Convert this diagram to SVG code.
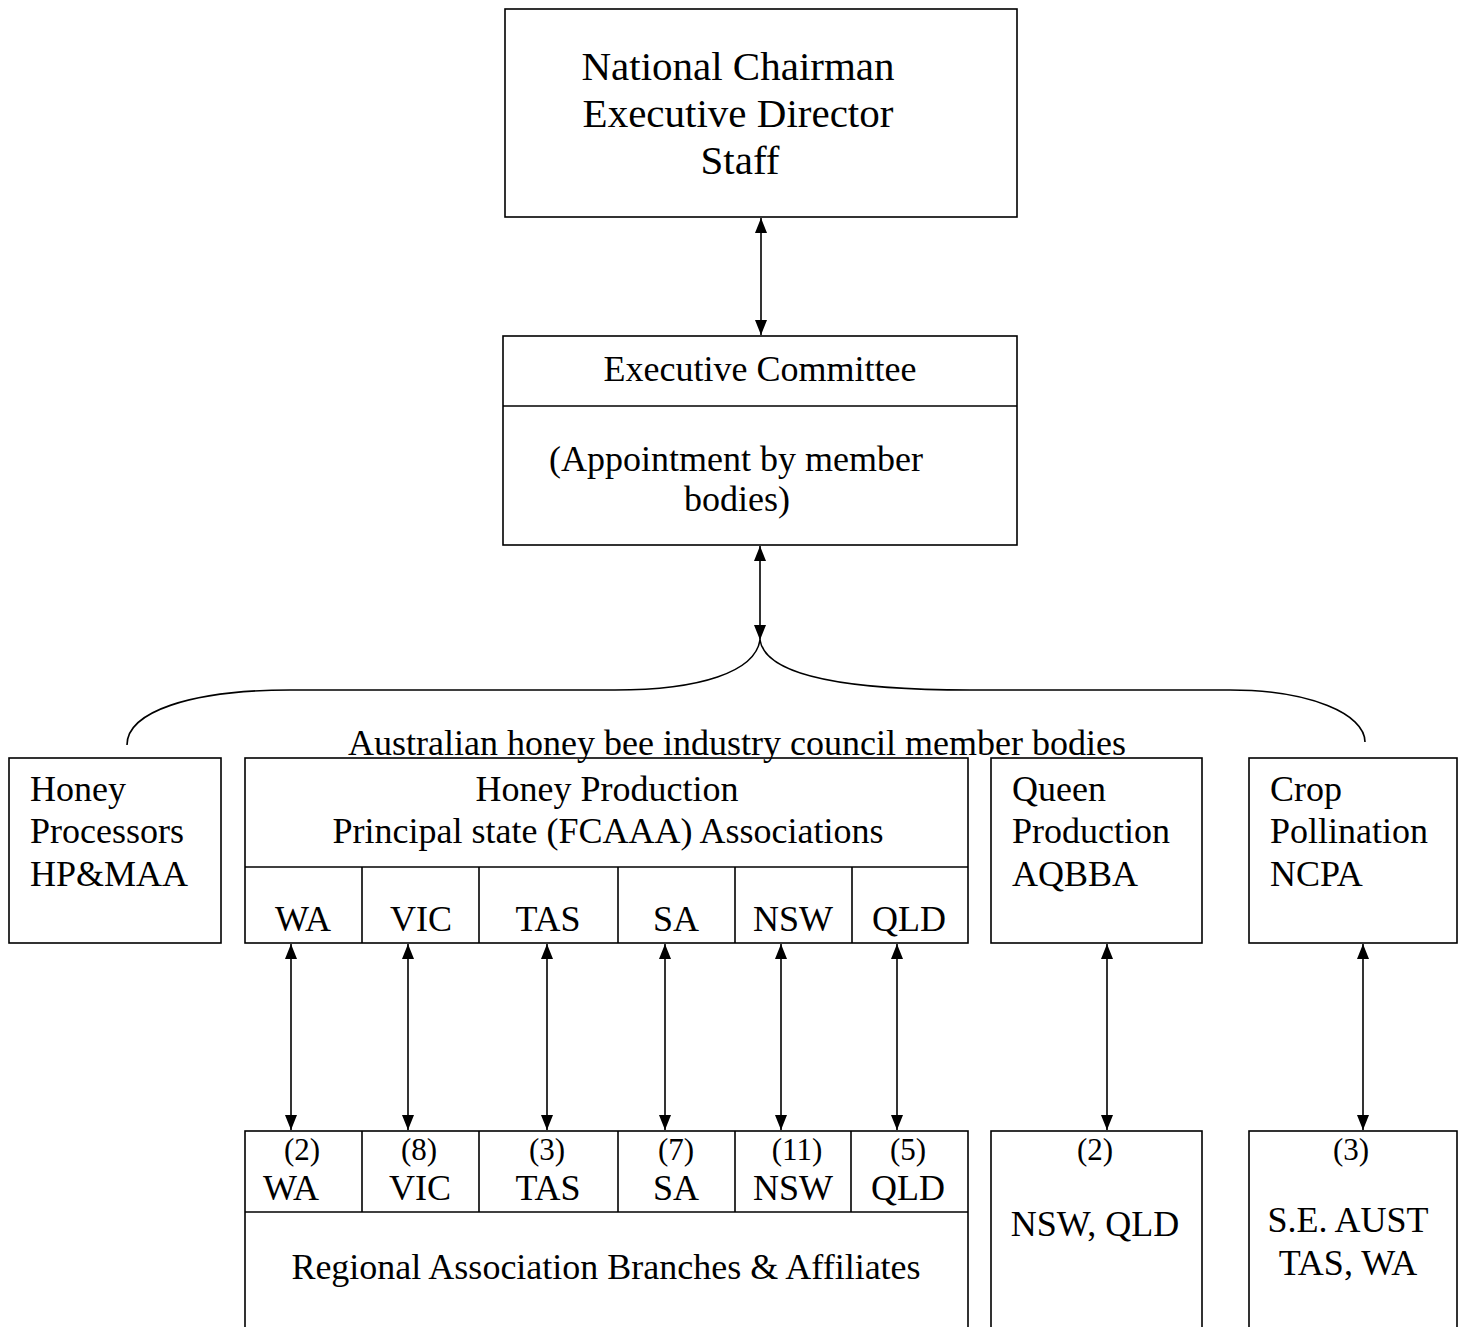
<svg xmlns="http://www.w3.org/2000/svg" width="1464" height="1327" viewBox="0 0 1464 1327">
<style>
.box{fill:none;stroke:#000;stroke-width:1.6}
.ln{fill:none;stroke:#000;stroke-width:1.6}
text{font-family:"Liberation Serif","Times New Roman",serif;fill:#000;font-size:36px}
.c{text-anchor:middle}
.big{font-size:41px}
.num{font-size:31px}
</style>
<defs>
<marker id="ah" viewBox="0 0 15 12" refX="15" refY="6" markerWidth="15" markerHeight="12" markerUnits="userSpaceOnUse" orient="auto-start-reverse">
<path d="M0,0 L15,6 L0,12 z" fill="#000"/>
</marker>
</defs>
<rect width="1464" height="1327" fill="#fff"/>

<g id="top">
<rect class="box" x="505" y="9" width="512" height="208"/>
<text class="c big" x="738" y="80">National Chairman</text>
<text class="c big" x="738" y="127">Executive Director</text>
<text class="c big" x="740" y="174">Staff</text>
</g>

<g id="exec">
<rect class="box" x="503" y="336" width="514" height="209"/>
<line class="ln" x1="503" y1="406" x2="1017" y2="406"/>
<text class="c" x="760" y="381">Executive Committee</text>
<text class="c" x="736" y="471">(Appointment by member</text>
<text class="c" x="737" y="511">bodies)</text>
</g>

<g id="council-label">
<text class="c" x="737" y="755">Australian honey bee industry council member bodies</text>
</g>

<g id="honey-processors">
<rect class="box" x="9" y="758" width="212" height="185" fill="#fff"/>
<text x="30" y="801">Honey</text>
<text x="30" y="843">Processors</text>
<text x="30" y="886">HP&amp;MAA</text>
</g>

<g id="honey-production">
<rect class="box" x="245" y="758" width="723" height="185"/>
<line class="ln" x1="245" y1="867" x2="968" y2="867"/>
<line class="ln" x1="362" y1="867" x2="362" y2="943"/>
<line class="ln" x1="479" y1="867" x2="479" y2="943"/>
<line class="ln" x1="618" y1="867" x2="618" y2="943"/>
<line class="ln" x1="735" y1="867" x2="735" y2="943"/>
<line class="ln" x1="852" y1="867" x2="852" y2="943"/>
<text class="c" x="607" y="801">Honey Production</text>
<text class="c" x="608" y="843">Principal state (FCAAA) Associations</text>
<text class="c" x="303" y="931">WA</text>
<text class="c" x="421" y="931">VIC</text>
<text class="c" x="548" y="931">TAS</text>
<text class="c" x="676" y="931">SA</text>
<text class="c" x="793" y="931">NSW</text>
<text class="c" x="909" y="931">QLD</text>
</g>

<g id="queen-production">
<rect class="box" x="991" y="758" width="211" height="185"/>
<text x="1012" y="801">Queen</text>
<text x="1012" y="843">Production</text>
<text x="1012" y="886">AQBBA</text>
</g>

<g id="crop-pollination">
<rect class="box" x="1249" y="758" width="208" height="185"/>
<text x="1270" y="801">Crop</text>
<text x="1270" y="843">Pollination</text>
<text x="1270" y="886">NCPA</text>
</g>

<g id="regional">
<rect class="box" x="245" y="1131" width="723" height="215"/>
<line class="ln" x1="245" y1="1212" x2="968" y2="1212"/>
<line class="ln" x1="362" y1="1131" x2="362" y2="1212"/>
<line class="ln" x1="479" y1="1131" x2="479" y2="1212"/>
<line class="ln" x1="618" y1="1131" x2="618" y2="1212"/>
<line class="ln" x1="735" y1="1131" x2="735" y2="1212"/>
<line class="ln" x1="851" y1="1131" x2="851" y2="1212"/>
<text class="c num" x="302" y="1160">(2)</text>
<text class="c num" x="419" y="1160">(8)</text>
<text class="c num" x="547" y="1160">(3)</text>
<text class="c num" x="676" y="1160">(7)</text>
<text class="c num" x="797" y="1160">(11)</text>
<text class="c num" x="908" y="1160">(5)</text>
<text class="c" x="291" y="1200">WA</text>
<text class="c" x="420" y="1200">VIC</text>
<text class="c" x="548" y="1200">TAS</text>
<text class="c" x="676" y="1200">SA</text>
<text class="c" x="793" y="1200">NSW</text>
<text class="c" x="908" y="1200">QLD</text>
<text class="c" x="606" y="1279">Regional Association Branches &amp; Affiliates</text>
</g>

<g id="queen-regions">
<rect class="box" x="991" y="1131" width="211" height="215"/>
<text class="c num" x="1095" y="1160">(2)</text>
<text class="c" x="1095" y="1236">NSW, QLD</text>
</g>

<g id="crop-regions">
<rect class="box" x="1249" y="1131" width="208" height="215"/>
<text class="c num" x="1351" y="1160">(3)</text>
<text class="c" x="1348" y="1232">S.E. AUST</text>
<text class="c" x="1348" y="1275">TAS, WA</text>
</g>

<g id="connectors">
<line class="ln" x1="761" y1="218" x2="761" y2="335" marker-start="url(#ah)" marker-end="url(#ah)"/>
<line class="ln" x1="760" y1="546" x2="760" y2="640" marker-start="url(#ah)" marker-end="url(#ah)"/>
<path class="ln" d="M127,745 C127,712 190,690 290,690 L615,690 C700,690 755,672 760,640"/>
<path class="ln" d="M760,640 C765,672 830,690 970,690 L1230,690 C1310,690 1365,714 1365,742"/>
<line class="ln" x1="291" y1="944" x2="291" y2="1130" marker-start="url(#ah)" marker-end="url(#ah)"/>
<line class="ln" x1="408" y1="944" x2="408" y2="1130" marker-start="url(#ah)" marker-end="url(#ah)"/>
<line class="ln" x1="547" y1="944" x2="547" y2="1130" marker-start="url(#ah)" marker-end="url(#ah)"/>
<line class="ln" x1="665" y1="944" x2="665" y2="1130" marker-start="url(#ah)" marker-end="url(#ah)"/>
<line class="ln" x1="781" y1="944" x2="781" y2="1130" marker-start="url(#ah)" marker-end="url(#ah)"/>
<line class="ln" x1="897" y1="944" x2="897" y2="1130" marker-start="url(#ah)" marker-end="url(#ah)"/>
<line class="ln" x1="1107" y1="944" x2="1107" y2="1130" marker-start="url(#ah)" marker-end="url(#ah)"/>
<line class="ln" x1="1363" y1="944" x2="1363" y2="1130" marker-start="url(#ah)" marker-end="url(#ah)"/>
</g>
</svg>
